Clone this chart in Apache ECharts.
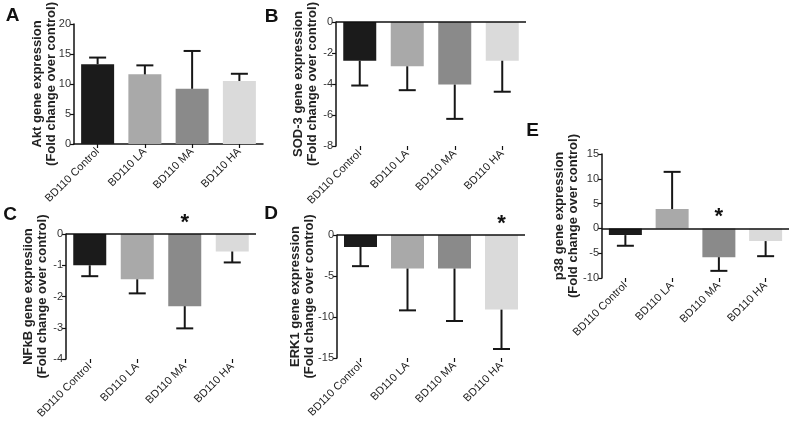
<!DOCTYPE html>
<html>
<head>
<meta charset="utf-8">
<script src="https://cdn.jsdelivr.net/npm/echarts@6/dist/echarts.min.js"></script>
<style>html,body{margin:0;padding:0;background:#fff}#c{width:795px;height:426px}</style>
</head>
<body>
<div id="c"></div>
<script>
const categories = ['BD110 Control', 'BD110 LA', 'BD110 MA', 'BD110 HA'];
// Panel A: Akt
const aktMean = [13.3, 11.6, 9.2, 10.5];
const aktErr  = [1.1, 1.5, 6.3, 1.2];
// Panel B: SOD-3
const sodMean = [-2.5, -2.86, -4.04, -2.5];
const sodErr  = [1.6, 1.54, 2.21, 2.0];
// Panel C: NFkB
const nfkbMean = [-1.0, -1.45, -2.31, -0.56];
const nfkbErr  = [0.35, 0.45, 0.71, 0.35];
// Panel D: ERK1
const erkMean = [-1.46, -4.09, -4.09, -9.1];
const erkErr  = [2.34, 5.1, 6.4, 4.8];
// Panel E: p38
const p38Mean = [-1.35, 3.9, -5.8, -2.56];
const p38Err  = [2.15, 7.5, 2.76, 3.04];
// significance markers (category index)
const nfkbSig = [2];
const erkSig = [3];
const p38Sig = [2];

const barColors = ['#1b1b1b', '#a9a9a9', '#8a8a8a', '#dadada'];
const FONT = "'Liberation Sans', Arial, sans-serif";

const panels = [
  {letter:'A', lx:12.5, ly:16, name:'Akt gene expression\n(Fold change over control)', mean:aktMean, err:aktErr, sig:[],
   grid:{left:74, top:19, width:189, height:125}, min:0, max:20, interval:5, nameGap:16, zeroLine:false},
  {letter:'B', lx:271.5, ly:17, name:'SOD-3 gene expression\n(Fold change over control)', mean:sodMean, err:sodErr, sig:[],
   grid:{left:336, top:21, width:190, height:125}, min:-8, max:0, interval:2, nameGap:17, zeroLine:true},
  {letter:'C', lx:10, ly:215, name:'NFkB gene expresiion\n(Fold change over control)', mean:nfkbMean, err:nfkbErr, sig:nfkbSig,
   grid:{left:66, top:234, width:190, height:125}, min:-4, max:0, interval:1, nameGap:17, zeroLine:true},
  {letter:'D', lx:271, ly:214, name:'ERK1 gene expression\n(Fold change over control)', mean:erkMean, err:erkErr, sig:erkSig,
   grid:{left:337, top:235, width:188, height:123}, min:-15, max:0, interval:5, nameGap:21, zeroLine:true},
  {letter:'E', lx:532.5, ly:131, name:'p38 gene expression\n(Fold change over control)', mean:p38Mean, err:p38Err, sig:p38Sig,
   grid:{left:602, top:154, width:187, height:124}, min:-10, max:15, interval:5, nameGap:22, zeroLine:true}
];

function errRender(params, api) {
  const x = api.value(0), m = api.value(1), sd = api.value(2);
  const end = m >= 0 ? m + sd : m - sd;
  const p0 = api.coord([x, m]);
  const p1 = api.coord([x, end]);
  const hw = 8.5;
  return {type:'group', children:[
    {type:'line', shape:{x1:p0[0], y1:p0[1], x2:p1[0], y2:p1[1]}, style:{stroke:'#161616', lineWidth:2}},
    {type:'line', shape:{x1:p1[0]-hw, y1:p1[1], x2:p1[0]+hw, y2:p1[1]}, style:{stroke:'#161616', lineWidth:2}}
  ]};
}
function starRender(params, api) {
  const p = api.coord([api.value(0), 0]);
  return {type:'text', x:p[0], y:p[1]-11, style:{text:'*', font:'bold 22px ' + FONT, textAlign:'center', textVerticalAlign:'middle', fill:'#111'}};
}

const option = {animation:false, backgroundColor:'#fff', grid:[], xAxis:[], yAxis:[], series:[], graphic:[]};
panels.forEach((p, i) => {
  option.grid.push(p.grid);
  option.xAxis.push({
    type:'category', gridIndex:i, data:categories, position:'bottom',
    axisLine:{show:!p.zeroLine, onZero:false, lineStyle:{color:'#111', width:1.5}},
    axisTick:{show:true, alignWithLabel:true, length:4, lineStyle:{color:'#111', width:1.2}},
    axisLabel:{rotate:45, fontSize:11, color:'#222', fontFamily:FONT, margin:6, interval:0, hideOverlap:false}
  });
  option.yAxis.push({
    type:'value', gridIndex:i, min:p.min, max:p.max, interval:p.interval,
    name:p.name, nameLocation:'middle', nameGap:p.nameGap, nameRotate:90, nameMoveOverlap:false,
    nameTextStyle:{fontSize:13, fontWeight:'bold', color:'#222', fontFamily:FONT, lineHeight:14},
    axisLine:{show:true, onZero:false, lineStyle:{color:'#111', width:1.5}},
    axisTick:{show:true, length:4, lineStyle:{color:'#111', width:1.2}},
    axisLabel:{fontSize:11, color:'#333', fontFamily:FONT, margin:3},
    splitLine:{show:false}
  });
  const bar = {
    type:'bar', xAxisIndex:i, yAxisIndex:i, barWidth:33,
    data:p.mean.map((v, k) => ({value:v, itemStyle:{color:barColors[k]}}))
  };
  if (p.zeroLine) {
    bar.markLine = {silent:true, symbol:['none','none'], label:{show:false},
      lineStyle:{color:'#111', width:1.5, type:'solid'}, data:[{yAxis:0}], animation:false};
  }
  option.series.push(bar);
  option.series.push({
    type:'custom', xAxisIndex:i, yAxisIndex:i, renderItem:errRender, z:3,
    data:p.mean.map((v, k) => [k, v, p.err[k]])
  });
  if (p.sig.length) {
    option.series.push({
      type:'custom', xAxisIndex:i, yAxisIndex:i, renderItem:starRender, z:4, clip:false,
      data:p.sig.map(k => [k, 0])
    });
  }
  option.graphic.push({type:'text', x:p.lx, y:p.ly,
    style:{text:p.letter, font:'bold 19px ' + FONT, textAlign:'center', textVerticalAlign:'middle', fill:'#111'}});
});

const chart = echarts.init(document.getElementById('c'), null, {renderer:'canvas'});
chart.setOption(option);
</script>
</body>
</html>
